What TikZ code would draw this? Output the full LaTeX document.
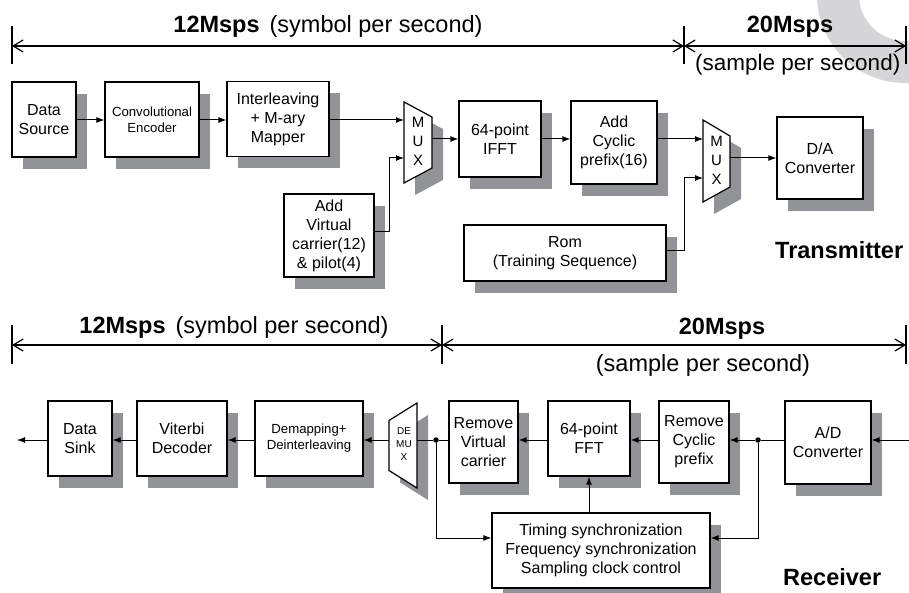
\documentclass[tikz,border=0pt]{standalone}
\usepackage{fontspec}
\setmainfont{Liberation Sans}
\usetikzlibrary{arrows.meta,shadows,calc}
\definecolor{shd}{RGB}{146,147,151}
\definecolor{wm}{RGB}{214,214,216}
\begin{document}
\begin{tikzpicture}[x=1pt,y=-1pt,
  box/.style={draw,fill=white,line width=1.2pt,align=center,inner sep=0pt,
     font=\fontsize{16}{19}\selectfont,
     drop shadow={shadow xshift=11pt,shadow yshift=-12pt,fill=shd,opacity=1}},
  smallbox/.style={box,font=\fontsize{13.2}{16}\selectfont},
  conn/.style={line width=1pt},
  arr/.style={conn,-{Latex[length=8pt,width=6pt]}},
  dim/.style={line width=1.2pt},
  dimarr/.style={dim,{Straight Barb[length=10pt,width=12pt]}-{Straight Barb[length=10pt,width=12pt]}},
  lbl/.style={font=\fontsize{23.5}{28}\selectfont,inner sep=0pt},
  muxtxt/.style={align=center,inner sep=0pt,font=\fontsize{15}{19}\selectfont},
  demuxtxt/.style={align=center,inner sep=0pt,font=\fontsize{10}{13}\selectfont},
  muxline/.style={draw,fill=white,line width=1.2pt},
  dotc/.style={circle,fill,inner sep=0pt,minimum size=5.5pt}
]
\useasboundingbox (0,0) rectangle (909,593);

% watermark
\fill[wm] (905,-5) ++(180:88) arc[start angle=180,end angle=60,radius=88]
  -- ($(905,-5)+(60:46)$) arc[start angle=60,end angle=180,radius=46] -- cycle;

% ---------------- Transmitter dimension line
\coordinate (t0) at (12,46);
\coordinate (t1) at (684,46);
\coordinate (t2) at (906,46);
\draw[dimarr] (t0) -- (t1);
\draw[dimarr] (t1) -- (t2);
\draw[dim] ($(t0)+(0,-20)$) -- ($(t0)+(0,18)$);
\draw[dim] ($(t1)+(0,-20)$) -- ($(t1)+(0,18)$);
\draw[dim] ($(t2)+(0,-20)$) -- ($(t2)+(0,18)$);
\node[lbl,anchor=base] (tl1) at (328,33) {\textbf{12Msps}\hspace{10pt}(symbol per second)};
\node[lbl,anchor=base] (tl2) at (790,33) {\textbf{20Msps}};
\node[lbl,anchor=base west,font=\fontsize{22.5}{27}\selectfont] (tl3) at (695,71) {(sample per second)};

% ---------------- Transmitter blocks
\node[box,minimum width=64pt,minimum height=75pt] (ds) at (44,119.5) {Data\\Source};
\node[smallbox,minimum width=94pt,minimum height=75pt] (ce) at (152,119.5) {Convolutional\\Encoder};
\node[box,minimum width=102pt,minimum height=75pt] (im) at (278,119) {Interleaving\\+ M-ary\\Mapper};
\node[box,minimum width=82pt,minimum height=76pt] (ifft) at (500,139) {64-point\\IFFT};
\node[box,minimum width=86pt,minimum height=83pt] (acp) at (614,142.5) {Add\\Cyclic\\prefix(16)};
\node[box,minimum width=86pt,minimum height=82pt] (da) at (820,158) {D/A\\Converter};
\node[box,minimum width=90pt,minimum height=83pt] (av) at (329,235.5) {Add\\Virtual\\carrier(12)\\\& pilot(4)};
\node[box,minimum width=202pt,minimum height=56pt] (rom) at (565,253) {Rom\\(Training Sequence)};

% MUX 1
\begin{scope}[shift={(418,142.5)}]
  \fill[shd] (-3,-28.5) -- (25,-13.5) -- (25,37.5) -- (-3,52.5) -- cycle;
  \path[muxline] (-14,-40.5) -- (14,-25.5) -- (14,25.5) -- (-14,40.5) -- cycle;
\end{scope}
\node[muxtxt,minimum width=28pt,minimum height=81pt] (mux1) at (418,141) {M\\U\\X};
% MUX 2
\begin{scope}[shift={(716.5,161)}]
  \fill[shd] (-2.5,-29) -- (24.5,-13) -- (24.5,38) -- (-2.5,53) -- cycle;
  \path[muxline] (-13.5,-41) -- (13.5,-25) -- (13.5,26) -- (-13.5,41) -- cycle;
\end{scope}
\node[muxtxt,minimum width=27pt,minimum height=82pt] (mux2) at (716.5,160) {M\\U\\X};

\node[lbl,anchor=base west] (tx) at (775,259) {\textbf{Transmitter}};

% Transmitter connectors
\coordinate (m1a) at (404,120);
\coordinate (m1b) at (404,158);
\coordinate (m1o) at (432,139);
\coordinate (m2a) at (703,139);
\coordinate (m2b) at (703,178);
\coordinate (m2o) at (730,158);
\draw[arr] (ds.east |- m1a) -- (ce.west |- m1a);
\draw[arr] (ce.east |- m1a) -- (im.west |- m1a);
\draw[arr] (im.east |- m1a) -- (m1a);
\draw[arr] (av.east |- 0,232) -- (389,232) |- (m1b);
\draw[arr] (m1o) -- (ifft.west |- m1o);
\draw[arr] (ifft.east |- m1o) -- (acp.west |- m1o);
\draw[arr] (acp.east |- m2a) -- (m2a);
\draw[arr] (rom.east |- 0,251) -- (684,251) |- (m2b);
\draw[arr] (m2o) -- (da.west |- m2o);

% ---------------- Receiver dimension line
\coordinate (r0) at (12,345);
\coordinate (r1) at (442,345);
\coordinate (r2) at (906,345);
\draw[dimarr] (r0) -- (r1);
\draw[dimarr] (r1) -- (r2);
\draw[dim] ($(r0)+(0,-20)$) -- ($(r0)+(0,19)$);
\draw[dim] ($(r1)+(0,-20)$) -- ($(r1)+(0,19)$);
\draw[dim] ($(r2)+(0,-20)$) -- ($(r2)+(0,19)$);
\node[lbl,anchor=base] (rl1) at (234,333) {\textbf{12Msps}\hspace{10pt}(symbol per second)};
\node[lbl,anchor=base] (rl2) at (722,334) {\textbf{20Msps}};
\node[lbl,anchor=base] (rl3) at (703,371) {(sample per second)};

% ---------------- Receiver blocks
\node[box,minimum width=64pt,minimum height=75pt] (dsk) at (80,438.5) {Data\\Sink};
\node[box,minimum width=90pt,minimum height=75pt] (vd) at (182,438.5) {Viterbi\\Decoder};
\node[smallbox,minimum width=108pt,minimum height=75pt] (dd) at (309,438.5) {Demapping+\\Deinterleaving};
\node[box,minimum width=69pt,minimum height=82pt] (rvc) at (483.5,442) {Remove\\Virtual\\carrier};
\node[box,minimum width=82pt,minimum height=75pt] (fft) at (589,438.5) {64-point\\FFT};
\node[box,minimum width=70pt,minimum height=82pt] (rcp) at (694,442) {Remove\\Cyclic\\prefix};
\node[box,minimum width=86pt,minimum height=83pt] (ad) at (828,442.5) {A/D\\Converter};
\node[box,minimum width=218pt,minimum height=75pt] (ts) at (601,550.5) {Timing synchronization\\Frequency synchronization\\Sampling clock control};

% DEMUX
\begin{scope}[shift={(403,445.5)}]
  \fill[shd] (-3,-13) -- (25,-30.5) -- (25,54.5) -- (-3,37) -- cycle;
  \path[muxline] (-14,-25) -- (14,-42.5) -- (14,42.5) -- (-14,25) -- cycle;
\end{scope}
\node[demuxtxt,minimum width=28pt,minimum height=85pt] (demux) at (404,444) {DE\\MU\\X};

\node[lbl,anchor=base west] (rx) at (783,585) {\textbf{Receiver}};

% Receiver connectors
\coordinate (rin) at (909,440);
\coordinate (rout) at (17,440);
\node[dotc] (dot1) at (436,440) {};
\node[dotc] (dot2) at (758,440) {};
\coordinate (dmL) at (389,440);
\coordinate (dmR) at (417,440);
\draw[arr] (rin) -- (ad.east |- rin);
\draw[conn] (ad.west |- rin) -- (dot2);
\draw[arr] (dot2) -- (rcp.east |- rin);
\draw[arr] (rcp.west |- rin) -- (fft.east |- rin);
\draw[arr] (fft.west |- rin) -- (rvc.east |- rin);
\draw[conn] (rvc.west |- rin) -- (dot1) -- (dmR);
\draw[arr] (dmL) -- (dd.east |- dmL);
\draw[arr] (dd.west |- rin) -- (vd.east |- rin);
\draw[arr] (vd.west |- rin) -- (dsk.east |- rin);
\draw[arr] (dsk.west |- rin) -- (rout);
\draw[arr] (dot1) |- (ts.west |- 0,538);
\draw[arr] (dot2) |- (ts.east |- 0,538);
\draw[arr] (fft.south |- ts.north) -- (fft.south);
\end{tikzpicture}
\end{document}
